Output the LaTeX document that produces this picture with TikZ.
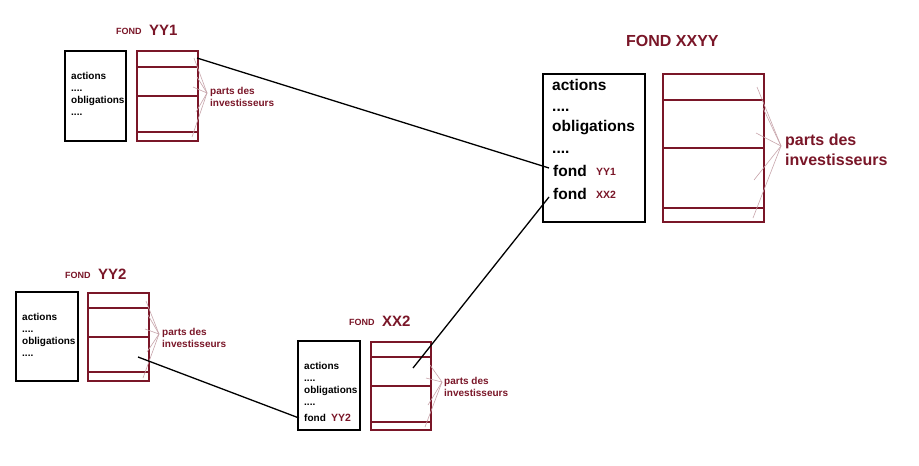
\documentclass[tikz,border=0pt]{standalone}
\usepackage{fontspec}
\setmainfont{Liberation Sans}
\definecolor{mr}{RGB}{122,22,40}
\definecolor{thinc}{RGB}{200,165,172}
\begin{document}
\begin{tikzpicture}[x=1pt,y=-1pt,
  bbox/.style={draw=black, line width=1.4pt},
  mbox/.style={draw=mr, line width=1.4pt},
  bbbox/.style={draw=black, line width=2.6pt},
  mbbox/.style={draw=mr, line width=2.6pt},
  txs/.style={anchor=base west, inner sep=0pt, font=\fontsize{10}{12}\selectfont\bfseries},
  txb/.style={anchor=base west, inner sep=0pt, font=\fontsize{15.5}{18}\selectfont\bfseries},
  tsm/.style={anchor=base west, inner sep=0pt, text=mr, font=\fontsize{9}{11}\selectfont\bfseries},
  tsx/.style={anchor=base west, inner sep=0pt, text=mr, font=\fontsize{10.5}{12}\selectfont\bfseries},
  tmd/.style={anchor=base west, inner sep=0pt, text=mr, font=\fontsize{10.5}{12}\selectfont\bfseries},
  tlg/.style={anchor=base west, inner sep=0pt, text=mr, font=\fontsize{15}{18}\selectfont\bfseries},
  ptxs/.style={anchor=base west, inner sep=0pt, text=mr, font=\fontsize{10}{12}\selectfont\bfseries},
  ptxb/.style={anchor=base west, inner sep=0pt, text=mr, font=\fontsize{16}{19}\selectfont\bfseries},
  hair/.style={draw=thinc, line width=0.6pt},
  conn/.style={draw=black, line width=1.3pt}]
\useasboundingbox[fill=white] (0,0) rectangle (919,466);

% ---------- FOND YY1 ----------
\node[tsm] (t1a) at (116,34) {FOND};
\node[tlg] (t1b) at (149,35) {YY1};
\draw[bbox] (65,51) rectangle (126,141);
\node[txs] (a1) at (71,79) {actions};
\node[txs] (a2) at (71,91) {....};
\node[txs] (a3) at (71,103) {obligations};
\node[txs] (a4) at (71,115) {....};
\draw[mbox] (137,51) rectangle (198,141);
\draw[mbox] (137,67) -- (198,67) (137,96) -- (198,96) (137,132) -- (198,132);
\node[ptxs] (p1a) at (210,94) {parts des};
\node[ptxs] (p1b) at (210,106) {investisseurs};
\coordinate (h1) at (207,93);
\foreach \p in {(194,58),(197,77),(193,87),(196,112),(192,137)} \draw[hair] (h1) -- \p;

% ---------- FOND YY2 ----------
\node[tsm] (t2a) at (65,278) {FOND};
\node[tlg] (t2b) at (98,279) {YY2};
\draw[bbox] (16,292) rectangle (78,381);
\node[txs] (b1) at (22,320) {actions};
\node[txs] (b2) at (22,332) {....};
\node[txs] (b3) at (22,344) {obligations};
\node[txs] (b4) at (22,356) {....};
\draw[mbox] (88,293) rectangle (149,381);
\draw[mbox] (88,308) -- (149,308) (88,337) -- (149,337) (88,372) -- (149,372);
\node[ptxs] (p2a) at (162,335) {parts des};
\node[ptxs] (p2b) at (162,347) {investisseurs};
\coordinate (h2) at (159,334);
\foreach \p in {(146,301),(148,315),(145,329),(147,352),(143,378)} \draw[hair] (h2) -- \p;

% ---------- FOND XX2 ----------
\node[tsm] (t3a) at (349,325) {FOND};
\node[tlg] (t3b) at (382,326) {XX2};
\draw[bbox] (298,341) rectangle (360,430);
\node[txs] (c1) at (304,369) {actions};
\node[txs] (c2) at (304,381) {....};
\node[txs] (c3) at (304,393) {obligations};
\node[txs] (c4) at (304,405) {....};
\node[txs] (c5) at (304,421) {fond};
\node[tmd] (c6) at (331,421) {YY2};
\draw[mbox] (371,342) rectangle (431,430);
\draw[mbox] (371,357) -- (431,357) (371,386) -- (431,386) (371,422) -- (431,422);
\node[ptxs] (p3a) at (444,384) {parts des};
\node[ptxs] (p3b) at (444,396) {investisseurs};
\coordinate (h3) at (442,382);
\foreach \p in {(430,365),(426,378),(428,405),(425,427)} \draw[hair] (h3) -- \p;

% ---------- FOND XXYY ----------
\node[ptxb] (t4) at (626,46) {FOND XXYY};
\draw[bbbox] (543,74) rectangle (645,222);
\node[txb] (d1) at (552,90) {actions};
\node[txb] (d2) at (552,111) {....};
\node[txb] (d3) at (552,131) {obligations};
\node[txb] (d4) at (552,153) {....};
\node[txb] (d5) at (553,176) {fond};
\node[tsx] (d6) at (596,175) {YY1};
\node[txb] (d7) at (553,199) {fond};
\node[tsx] (d8) at (596,198) {XX2};
\draw[mbbox] (663,74) rectangle (764,222);
\draw[mbbox] (663,100) -- (764,100) (663,148) -- (764,148) (663,208) -- (764,208);
\node[ptxb] (p4a) at (785,145) {parts des};
\node[ptxb] (p4b) at (785,165) {investisseurs};
\coordinate (h4) at (781,146);
\foreach \p in {(757,87),(763,108),(756,133),(754,180),(753,218)} \draw[hair] (h4) -- \p;

% ---------- connectors ----------
\coordinate (s1) at (197,58);
\coordinate (e1) at (549,168);
\draw[conn] (s1) -- (e1);
\coordinate (s2) at (138,357);
\coordinate (e2) at (299,418);
\draw[conn] (s2) -- (e2);
\coordinate (s3) at (413,368);
\coordinate (e3) at (549,197);
\draw[conn] (s3) -- (e3);
\end{tikzpicture}
\end{document}
